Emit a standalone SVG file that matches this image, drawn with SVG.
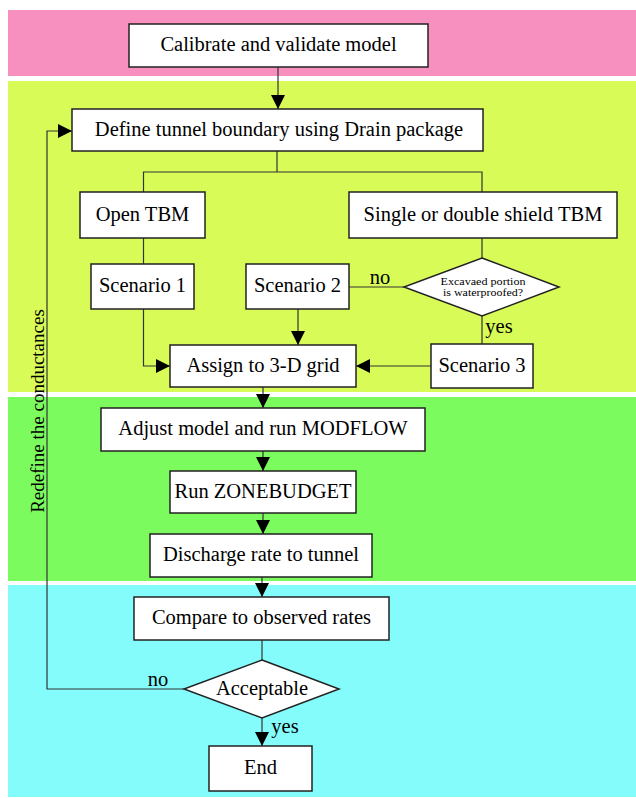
<svg xmlns="http://www.w3.org/2000/svg" width="636" height="798" viewBox="0 0 636 798">
<defs>
<style>
.box{fill:#fff;stroke:#222;stroke-width:1.5}
.t{font-family:"Liberation Serif","Times New Roman",serif;font-size:20.5px;fill:#000;text-anchor:middle}
.s{font-family:"Liberation Serif","Times New Roman",serif;font-size:10.5px;fill:#000;text-anchor:middle}
.c{fill:none;stroke:#333;stroke-width:1.2}
</style>
<marker id="ah" viewBox="0 0 14 14" refX="14" refY="7" markerWidth="14" markerHeight="14" markerUnits="userSpaceOnUse" orient="auto">
<path d="M0,0 L14,7 L0,14 Z" fill="#000"/>
</marker>
</defs>
<rect width="636" height="798" fill="#fff"/>
<g id="bands">
<rect x="8" y="10" width="628" height="66" fill="#F790BE"/>
<rect x="8" y="81" width="628" height="311" fill="#D8FB58"/>
<rect x="8" y="397" width="628" height="184" fill="#7CFB5E"/>
<rect x="8" y="585" width="628" height="212" fill="#84FCFC"/>
</g>
<g id="connectors">
<path class="c" d="M278,67 V109" marker-end="url(#ah)"/>
<path class="c" d="M277,151 V172 M143.5,192 V172 H482 V192"/>
<path class="c" d="M143.5,238 V264"/>
<path class="c" d="M482,238 V258"/>
<path class="c" d="M404,287 H349"/>
<path class="c" d="M482,316 V344"/>
<path class="c" d="M143.5,309 V366 H170" marker-end="url(#ah)"/>
<path class="c" d="M298,309 V345" marker-end="url(#ah)"/>
<path class="c" d="M431,366 H356" marker-end="url(#ah)"/>
<path class="c" d="M263,387 V408" marker-end="url(#ah)"/>
<path class="c" d="M263,451 V471" marker-end="url(#ah)"/>
<path class="c" d="M263,513 V534" marker-end="url(#ah)"/>
<path class="c" d="M262,577 V597" marker-end="url(#ah)"/>
<path class="c" d="M262,640 V660"/>
<path class="c" d="M262,718 V746" marker-end="url(#ah)"/>
<path class="c" d="M184,689 H47 V131 H72" marker-end="url(#ah)"/>
<text class="t" x="380" y="284">no</text>
<text class="t" x="499" y="333">yes</text>
<text class="t" x="158" y="686">no</text>
<text class="t" x="285" y="733">yes</text>
<text class="t" style="font-size:19px" transform="translate(44,411) rotate(-90)">Redefine the conductances</text>
</g>
<g id="calibrate"><rect class="box" x="129" y="24" width="299" height="43"/><text class="t" x="278.5" y="51">Calibrate and validate model</text></g>
<g id="define"><rect class="box" x="72" y="109" width="411" height="42"/><text class="t" x="279" y="136">Define tunnel boundary using Drain package</text></g>
<g id="open-tbm"><rect class="box" x="80" y="192" width="125" height="46"/><text class="t" x="142.5" y="221">Open TBM</text></g>
<g id="shield-tbm"><rect class="box" x="349" y="192" width="268" height="46"/><text class="t" x="483" y="221">Single or double shield TBM</text></g>
<g id="scenario1"><rect class="box" x="91" y="264" width="103" height="45"/><text class="t" x="142.5" y="292">Scenario 1</text></g>
<g id="scenario2"><rect class="box" x="246" y="264" width="103" height="45"/><text class="t" x="297.5" y="292">Scenario 2</text></g>
<g id="waterproofed"><path class="box" d="M482,258 L559,287 L482,316 L404,287 Z"/><text class="s" x="483" y="284.5" textLength="85" lengthAdjust="spacingAndGlyphs">Excavaed portion</text><text class="s" x="483" y="295.5" textLength="80" lengthAdjust="spacingAndGlyphs">is waterproofed?</text></g>
<g id="scenario3"><rect class="box" x="431" y="344" width="102" height="44"/><text class="t" x="482" y="372">Scenario 3</text></g>
<g id="assign"><rect class="box" x="170" y="345" width="186" height="42"/><text class="t" x="263" y="372">Assign to 3-D grid</text></g>
<g id="adjust"><rect class="box" x="101" y="408" width="324" height="43"/><text class="t" x="263" y="435">Adjust model and run MODFLOW</text></g>
<g id="zonebudget"><rect class="box" x="170" y="471" width="186" height="42"/><text class="t" x="263" y="498">Run ZONEBUDGET</text></g>
<g id="discharge"><rect class="box" x="150" y="534" width="222" height="43"/><text class="t" x="261" y="561">Discharge rate to tunnel</text></g>
<g id="compare"><rect class="box" x="134" y="597" width="255" height="43"/><text class="t" x="261.5" y="624">Compare to observed rates</text></g>
<g id="acceptable"><path class="box" d="M262,660 L339,689 L262,718 L184,689 Z"/><text class="t" x="262" y="695">Acceptable</text></g>
<g id="end"><rect class="box" x="209" y="746" width="103" height="45"/><text class="t" x="260.5" y="774">End</text></g>
</svg>
